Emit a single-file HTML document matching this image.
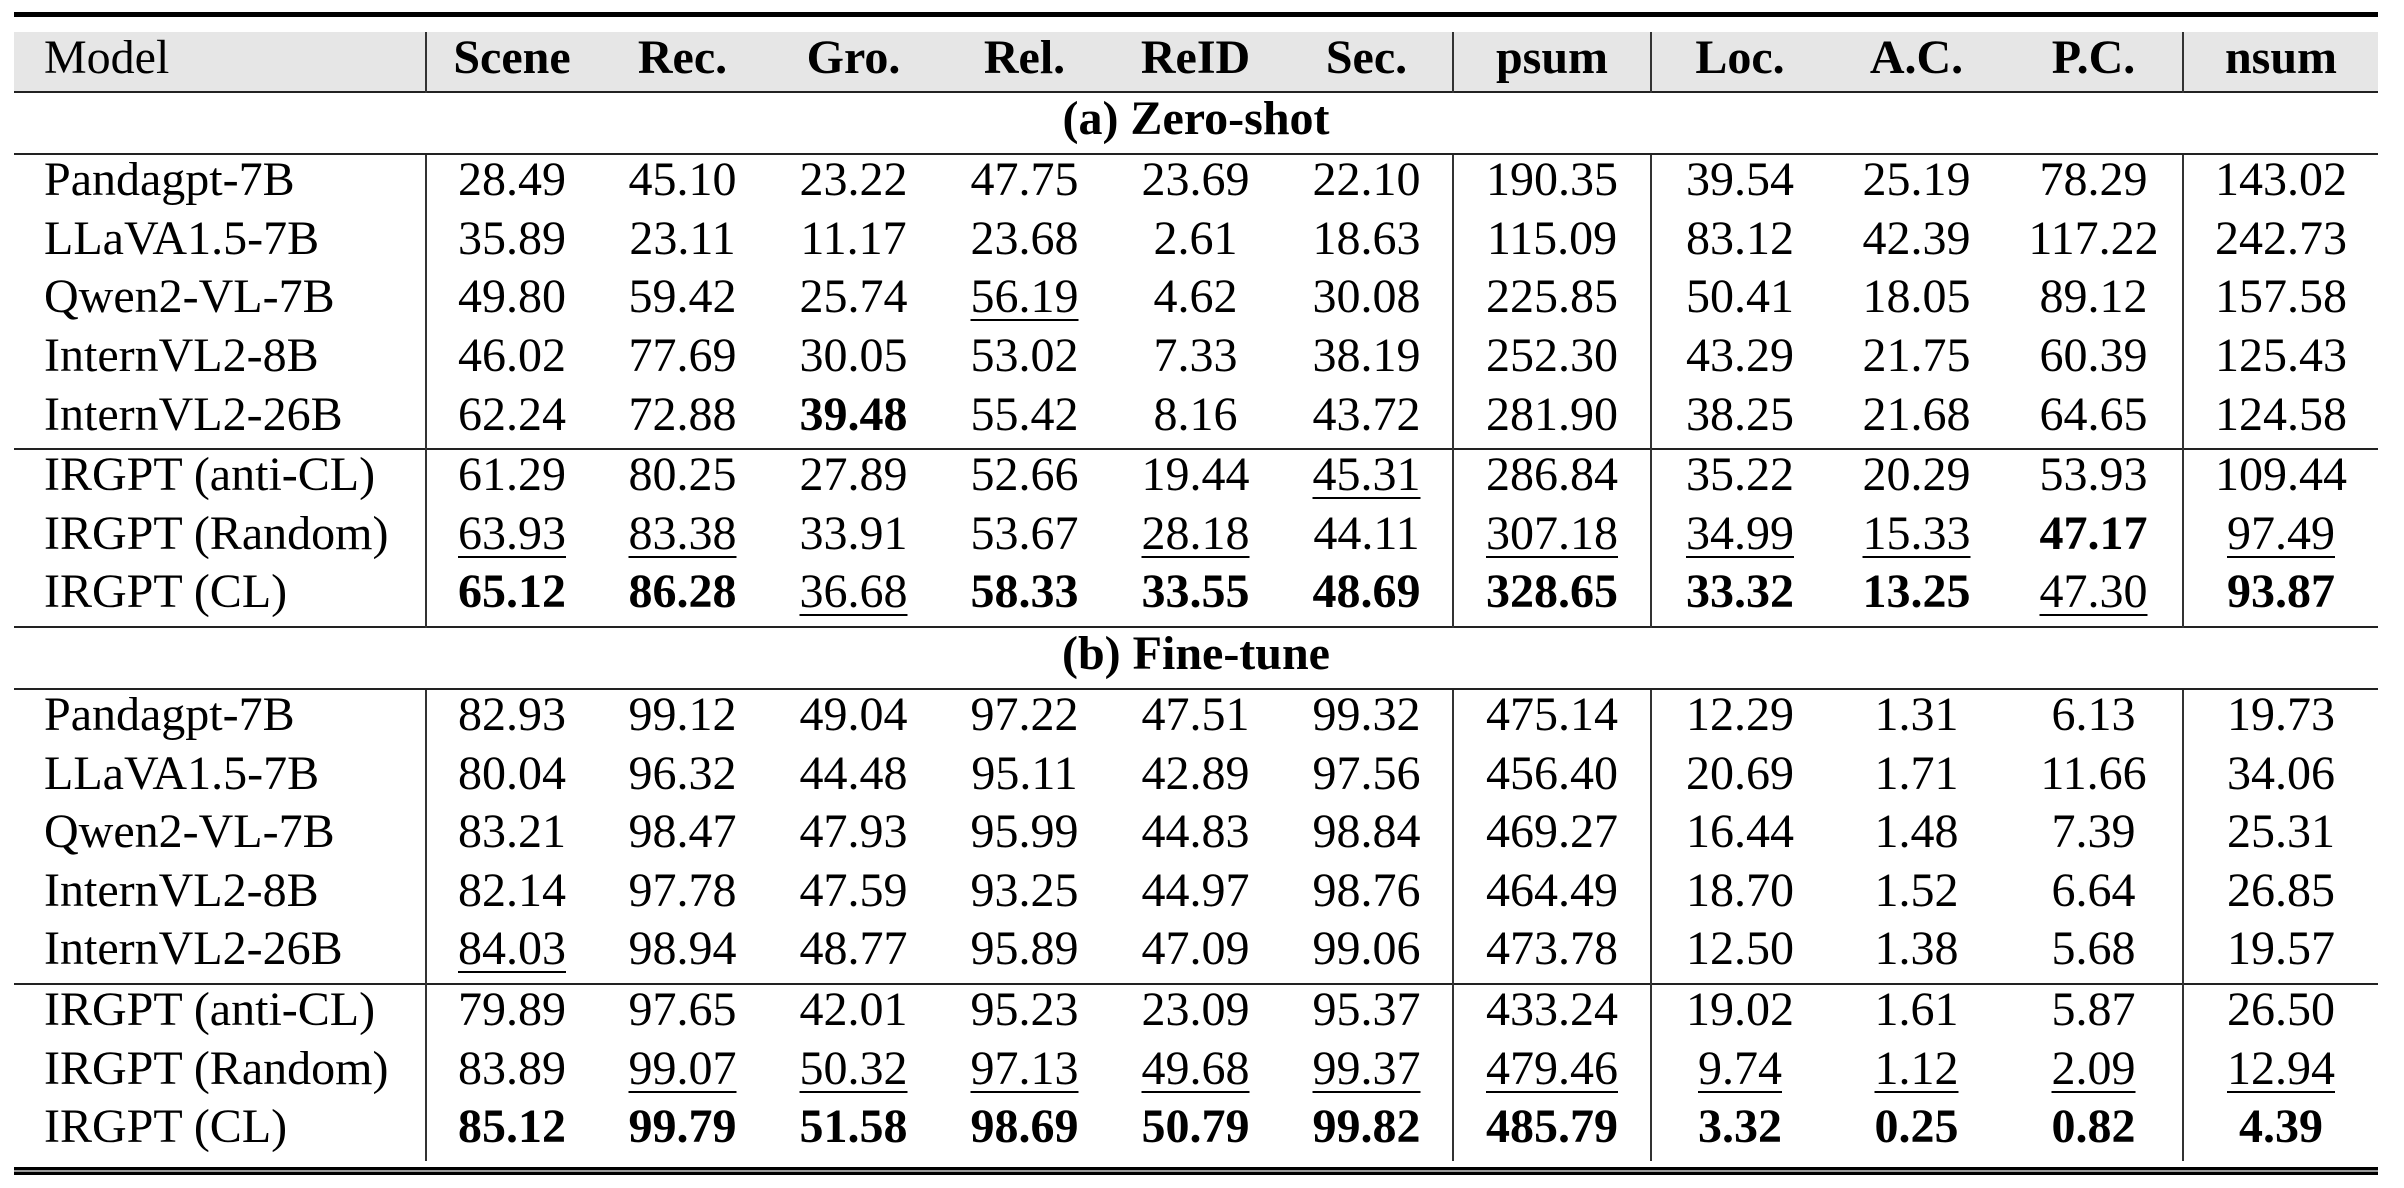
<!DOCTYPE html>
<html><head><meta charset="utf-8"><style>
html,body{margin:0;padding:0;background:#fff;}
body{width:2404px;height:1188px;position:relative;overflow:hidden;font-family:"Liberation Serif",serif;color:#000;}
.rule{position:absolute;left:14px;width:2364px;background:#000;}
table{position:absolute;left:14px;top:32px;width:2364px;border-collapse:collapse;table-layout:fixed;font-size:48px;}
td{padding:0 0 8px 0;text-align:center;white-space:nowrap;line-height:1;}
td.m{text-align:left;padding-left:30px;}
tr.h td{background:#e6e6e6;height:51px;font-weight:bold;}
tr.h td.m{font-weight:normal;}
tr.s td{height:52px;font-weight:bold;border-top:2px solid #222;border-bottom:2px solid #222;}
tr.r td{height:50.6px;}
tr.g td{border-top:2px solid #222;}
.v{border-left:2px solid #333;}
b{font-weight:bold;}
u{text-decoration:underline;text-decoration-thickness:2px;text-underline-offset:7px;}
</style></head><body>
<div class="rule" style="top:12px;height:5px;"></div>
<table>
<colgroup><col style="width:412px"><col style="width:171px"><col style="width:171px"><col style="width:171px"><col style="width:171px"><col style="width:171px"><col style="width:172px"><col style="width:198px"><col style="width:177px"><col style="width:177px"><col style="width:178px"><col style="width:195px"></colgroup>
<tr class="h"><td class="m">Model</td><td class="v">Scene</td><td>Rec.</td><td>Gro.</td><td>Rel.</td><td>ReID</td><td>Sec.</td><td class="v">psum</td><td class="v">Loc.</td><td>A.C.</td><td>P.C.</td><td class="v">nsum</td></tr>
<tr class="s"><td colspan="12">(a) Zero-shot</td></tr>
<tr class="r"><td class="m">Pandagpt-7B</td><td class="v">28.49</td><td>45.10</td><td>23.22</td><td>47.75</td><td>23.69</td><td>22.10</td><td class="v">190.35</td><td class="v">39.54</td><td>25.19</td><td>78.29</td><td class="v">143.02</td></tr>
<tr class="r"><td class="m">LLaVA1.5-7B</td><td class="v">35.89</td><td>23.11</td><td>11.17</td><td>23.68</td><td>2.61</td><td>18.63</td><td class="v">115.09</td><td class="v">83.12</td><td>42.39</td><td>117.22</td><td class="v">242.73</td></tr>
<tr class="r"><td class="m">Qwen2-VL-7B</td><td class="v">49.80</td><td>59.42</td><td>25.74</td><td><u>56.19</u></td><td>4.62</td><td>30.08</td><td class="v">225.85</td><td class="v">50.41</td><td>18.05</td><td>89.12</td><td class="v">157.58</td></tr>
<tr class="r"><td class="m">InternVL2-8B</td><td class="v">46.02</td><td>77.69</td><td>30.05</td><td>53.02</td><td>7.33</td><td>38.19</td><td class="v">252.30</td><td class="v">43.29</td><td>21.75</td><td>60.39</td><td class="v">125.43</td></tr>
<tr class="r"><td class="m">InternVL2-26B</td><td class="v">62.24</td><td>72.88</td><td><b>39.48</b></td><td>55.42</td><td>8.16</td><td>43.72</td><td class="v">281.90</td><td class="v">38.25</td><td>21.68</td><td>64.65</td><td class="v">124.58</td></tr>
<tr class="r g"><td class="m">IRGPT (anti-CL)</td><td class="v">61.29</td><td>80.25</td><td>27.89</td><td>52.66</td><td>19.44</td><td><u>45.31</u></td><td class="v">286.84</td><td class="v">35.22</td><td>20.29</td><td>53.93</td><td class="v">109.44</td></tr>
<tr class="r"><td class="m">IRGPT (Random)</td><td class="v"><u>63.93</u></td><td><u>83.38</u></td><td>33.91</td><td>53.67</td><td><u>28.18</u></td><td>44.11</td><td class="v"><u>307.18</u></td><td class="v"><u>34.99</u></td><td><u>15.33</u></td><td><b>47.17</b></td><td class="v"><u>97.49</u></td></tr>
<tr class="r"><td class="m">IRGPT (CL)</td><td class="v"><b>65.12</b></td><td><b>86.28</b></td><td><u>36.68</u></td><td><b>58.33</b></td><td><b>33.55</b></td><td><b>48.69</b></td><td class="v"><b>328.65</b></td><td class="v"><b>33.32</b></td><td><b>13.25</b></td><td><u>47.30</u></td><td class="v"><b>93.87</b></td></tr>
<tr class="s"><td colspan="12">(b) Fine-tune</td></tr>
<tr class="r"><td class="m">Pandagpt-7B</td><td class="v">82.93</td><td>99.12</td><td>49.04</td><td>97.22</td><td>47.51</td><td>99.32</td><td class="v">475.14</td><td class="v">12.29</td><td>1.31</td><td>6.13</td><td class="v">19.73</td></tr>
<tr class="r"><td class="m">LLaVA1.5-7B</td><td class="v">80.04</td><td>96.32</td><td>44.48</td><td>95.11</td><td>42.89</td><td>97.56</td><td class="v">456.40</td><td class="v">20.69</td><td>1.71</td><td>11.66</td><td class="v">34.06</td></tr>
<tr class="r"><td class="m">Qwen2-VL-7B</td><td class="v">83.21</td><td>98.47</td><td>47.93</td><td>95.99</td><td>44.83</td><td>98.84</td><td class="v">469.27</td><td class="v">16.44</td><td>1.48</td><td>7.39</td><td class="v">25.31</td></tr>
<tr class="r"><td class="m">InternVL2-8B</td><td class="v">82.14</td><td>97.78</td><td>47.59</td><td>93.25</td><td>44.97</td><td>98.76</td><td class="v">464.49</td><td class="v">18.70</td><td>1.52</td><td>6.64</td><td class="v">26.85</td></tr>
<tr class="r"><td class="m">InternVL2-26B</td><td class="v"><u>84.03</u></td><td>98.94</td><td>48.77</td><td>95.89</td><td>47.09</td><td>99.06</td><td class="v">473.78</td><td class="v">12.50</td><td>1.38</td><td>5.68</td><td class="v">19.57</td></tr>
<tr class="r g"><td class="m">IRGPT (anti-CL)</td><td class="v">79.89</td><td>97.65</td><td>42.01</td><td>95.23</td><td>23.09</td><td>95.37</td><td class="v">433.24</td><td class="v">19.02</td><td>1.61</td><td>5.87</td><td class="v">26.50</td></tr>
<tr class="r"><td class="m">IRGPT (Random)</td><td class="v">83.89</td><td><u>99.07</u></td><td><u>50.32</u></td><td><u>97.13</u></td><td><u>49.68</u></td><td><u>99.37</u></td><td class="v"><u>479.46</u></td><td class="v"><u>9.74</u></td><td><u>1.12</u></td><td><u>2.09</u></td><td class="v"><u>12.94</u></td></tr>
<tr class="r"><td class="m">IRGPT (CL)</td><td class="v"><b>85.12</b></td><td><b>99.79</b></td><td><b>51.58</b></td><td><b>98.69</b></td><td><b>50.79</b></td><td><b>99.82</b></td><td class="v"><b>485.79</b></td><td class="v"><b>3.32</b></td><td><b>0.25</b></td><td><b>0.82</b></td><td class="v"><b>4.39</b></td></tr>
</table>
<div class="rule" style="top:1167px;height:2px;background:#999;border-top:3px solid #000;border-bottom:3px solid #000;"></div>
</body></html>
